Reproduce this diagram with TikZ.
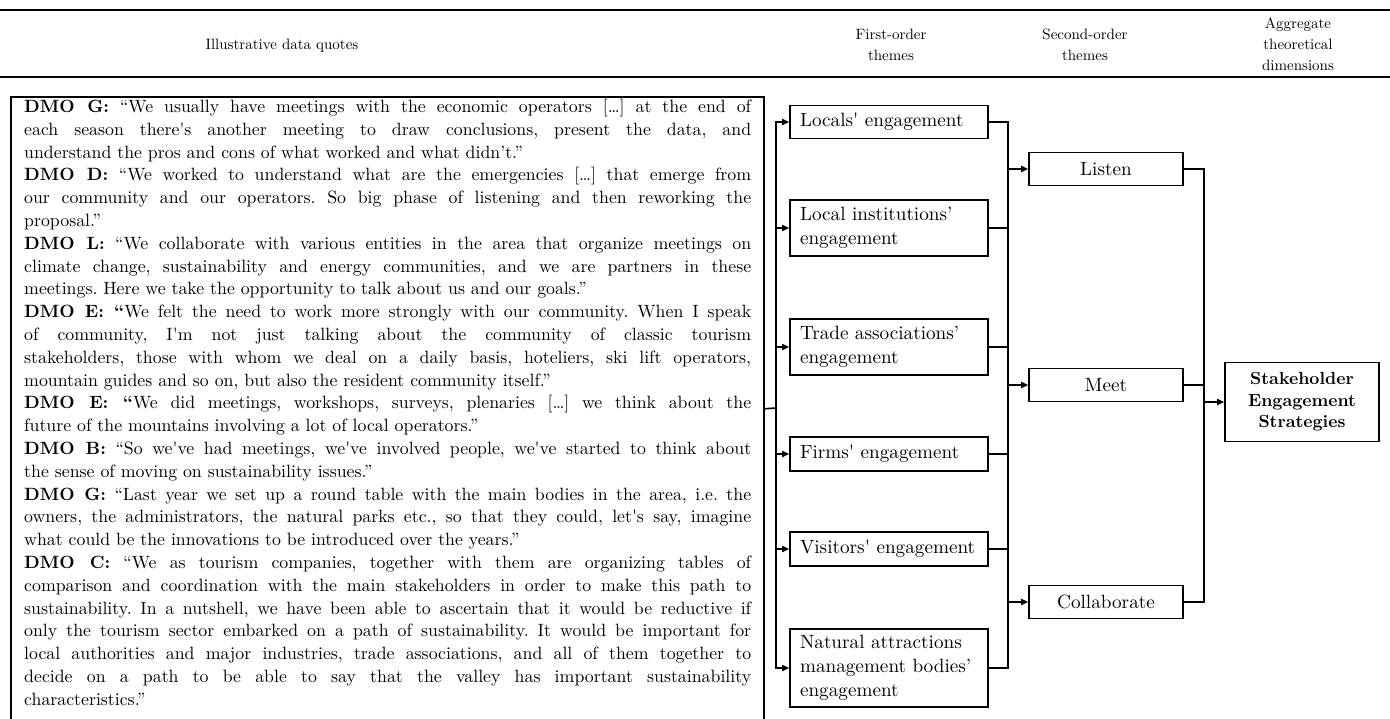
\documentclass[tikz,border=0pt]{standalone}
\usetikzlibrary{arrows.meta}
\DeclareFontFamily{TU}{lmrten}{}
\DeclareFontShape{TU}{lmrten}{m}{n}{<-> "[lmroman10-regular]:mapping=tex-text;"}{}
\DeclareFontShape{TU}{lmrten}{bx}{n}{<-> "[lmroman10-bold]:mapping=tex-text;"}{}
\DeclareFontShape{TU}{lmrten}{b}{n}{<-> ssub * lmrten/bx/n}{}
\renewcommand{\rmdefault}{lmrten}
\newcommand{\qj}[1]{\makebox[727pt][s]{#1}}
\newcommand{\qe}[1]{\makebox[727pt][l]{#1}}
\newcommand{\sq}{\textquotesingle}
\tikzset{
  rule/.style={line width=2.2pt},
  hdr/.style={align=center, inner sep=0pt, font=\fontsize{15}{21}\selectfont},
  conn/.style={line width=1.6pt},
  arr/.style={line width=1.6pt, -{Triangle[length=7pt,width=6pt]}},
  fbox/.style={draw, line width=1.6pt, text width=178pt, inner xsep=10pt, inner ysep=2pt, align=left, font=\fontsize{19.2}{24}\selectfont},
  sbox/.style={draw, line width=1.6pt, minimum width=154pt, minimum height=33pt, inner sep=2pt, align=center, font=\fontsize{19.2}{24}\selectfont},
  abox/.style={draw, line width=1.6pt, minimum width=154pt, minimum height=79pt, inner sep=2pt, align=center, font=\fontsize{17.5}{21.5}\selectfont\bfseries},
  qfont/.style={font=\fontsize{17.8}{22.8}\selectfont\frenchspacing}
}
\begin{document}
\begin{tikzpicture}[x=1pt,y=-1pt]
\fill[white] (0,0) rectangle (1390,718);
\useasboundingbox (0,0) rectangle (1390,718);
% header
\draw[rule] (0,10) -- (1390,10);
\draw[rule] (0,77) -- (1390,77);
\node[hdr] (h1) at (282,46) {Illustrative data quotes};
\node[hdr] (h2) at (891,45) {First-order\\themes};
\node[hdr] (h3) at (1085,45) {Second-order\\themes};
\node[hdr] (h4) at (1298,44) {Aggregate\\theoretical\\dimensions};
% quote box
\node[draw, line width=1.6pt, minimum width=753pt, minimum height=624pt, inner sep=0pt, anchor=north west] (qbox) at (10,96) {};
\node[qfont, anchor=north west, inner sep=0pt, align=left] (qt) at (24,99) {%
\qj{\textbf{DMO G:} “We usually have meetings with the economic operators […] at the end of}\\
\qj{each season there\sq s another meeting to draw conclusions, present the data, and}\\
\qe{understand the pros and cons of what worked and what didn’t.”}\\
\qj{\textbf{DMO D:} “We worked to understand what are the emergencies […] that emerge from}\\
\qj{our community and our operators. So big phase of listening and then reworking the}\\
\qe{proposal.”}\\
\qj{\textbf{DMO L:} “We collaborate with various entities in the area that organize meetings on}\\
\qj{climate change, sustainability and energy communities, and we are partners in these}\\
\qe{meetings. Here we take the opportunity to talk about us and our goals.”}\\
\qj{\textbf{DMO E: “}We felt the need to work more strongly with our community. When I speak}\\
\qj{of community, I\sq m not just talking about the community of classic tourism}\\
\qj{stakeholders, those with whom we deal on a daily basis, hoteliers, ski lift operators,}\\
\qe{mountain guides and so on, but also the resident community itself.”}\\
\qj{\textbf{DMO E: “}We did meetings, workshops, surveys, plenaries […] we think about the}\\
\qe{future of the mountains involving a lot of local operators.”}\\
\qj{\textbf{DMO B:} “So we\sq ve had meetings, we\sq ve involved people, we\sq ve started to think about}\\
\qe{the sense of moving on sustainability issues.”}\\
\qj{\textbf{DMO G:} “Last year we set up a round table with the main bodies in the area, i.e. the}\\
\qj{owners, the administrators, the natural parks etc., so that they could, let\sq s say, imagine}\\
\qe{what could be the innovations to be introduced over the years.”}\\
\qj{\textbf{DMO C:} “We as tourism companies, together with them are organizing tables of}\\
\qj{comparison and coordination with the main stakeholders in order to make this path to}\\
\qj{sustainability. In a nutshell, we have been able to ascertain that it would be reductive if}\\
\qj{only the tourism sector embarked on a path of sustainability. It would be important for}\\
\qj{local authorities and major industries, trade associations, and all of them together to}\\
\qj{decide on a path to be able to say that the valley has important sustainability}\\
\qe{characteristics.”}};
% first-order
\node[fbox, minimum height=33pt] (f1) at (889,122) {Locals\sq\ engagement};
\node[fbox, minimum height=56pt] (f2) at (889,228) {Local institutions’\\engagement};
\node[fbox, minimum height=56pt] (f3) at (889,347) {Trade associations’\\engagement};
\node[fbox, minimum height=34pt] (f4) at (889,454) {Firms\sq\ engagement};
\node[fbox, minimum height=34pt] (f5) at (889,549) {Visitors\sq\ engagement};
\node[fbox, minimum height=78pt] (f6) at (889,668) {Natural attractions\\management bodies’\\engagement};
% second-order
\node[sbox] (s1) at (1106,169) {Listen};
\node[sbox] (s2) at (1106,385) {Meet};
\node[sbox] (s3) at (1106,602) {Collaborate};
% aggregate
\node[abox] (agg) at (1302,402) {Stakeholder\\Engagement\\Strategies};
% connectors
\coordinate (bq) at (776,408);
\draw[conn] (qbox.east) -- (bq);
\foreach \f in {f1,f2,f3,f4,f5,f6} {\draw[arr] (bq) |- (\f.west);}
\coordinate (bf) at (1008,385);
\foreach \f in {f1,f2,f3,f4,f5,f6} {\draw[conn] (\f.east) -| (bf);}
\foreach \s in {s1,s2,s3} {\draw[arr] (bf) |- (\s.west);}
\coordinate (bs) at (1204,402);
\foreach \s in {s1,s2,s3} {\draw[conn] (\s.east) -| (bs);}
\draw[arr] (bs) -- (agg.west);
\end{tikzpicture}
\end{document}
